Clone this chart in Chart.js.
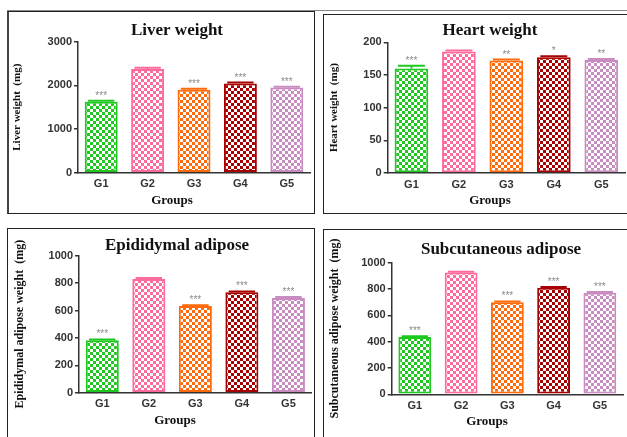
<!DOCTYPE html>
<html>
<head>
<meta charset="utf-8">
<script src="https://cdn.jsdelivr.net/npm/chart.js@4.4.1/dist/chart.umd.min.js"></script>
<style>
  html, body { margin: 0; padding: 0; background: #fff; width: 627px; height: 437px; overflow: hidden; }
  body { position: relative; }
  .frame { position: absolute; box-sizing: border-box; border: 1px solid #222; }
  canvas { position: absolute; }
</style>
</head>
<body>
<div style="position:absolute;left:7px;top:10px;width:620px;border-top:1px solid #888"></div>
<div class="frame" style="left:7px;top:11px;width:308px;height:203px;border-left:2px solid #444"></div>
<div class="frame" style="left:323px;top:14px;width:320px;height:200px"></div>
<div class="frame" style="left:7px;top:228px;width:308px;height:230px"></div>
<div class="frame" style="left:323px;top:229px;width:320px;height:230px"></div>

<canvas id="liver-chart" width="304" height="199" style="left:9px;top:13px"></canvas>
<canvas id="heart-chart" width="303" height="197" style="left:324px;top:15px"></canvas>
<canvas id="epi-chart"   width="304" height="208" style="left:9px;top:229px"></canvas>
<canvas id="sub-chart"   width="303" height="207" style="left:324px;top:230px"></canvas>

<script>
/* ── Data ── */
const GROUPS = ['G1', 'G2', 'G3', 'G4', 'G5'];

const LIVER       = [1625, 2375, 1900, 2040, 1950];
const LIVER_SEM   = [25, 30, 25, 25, 20];
const LIVER_SIG   = ['***', '', '***', '***', '***'];
const LIVER_TICKS = [0, 1000, 2000, 3000];

const HEART       = [160, 186, 172, 177, 173];
const HEART_SEM   = [4, 1.5, 1.5, 1.5, 1.5];
const HEART_SIG   = ['***', '', '**', '*', '**'];
const HEART_TICKS = [0, 50, 100, 150, 200];

const EPI         = [383, 830, 633, 733, 692];
const EPI_SEM     = [6, 8, 6, 6, 6];
const EPI_SIG     = ['***', '', '***', '***', '***'];
const EPI_TICKS   = [0, 200, 400, 600, 800, 1000];

const SUB         = [435, 925, 700, 810, 772];
const SUB_SEM     = [6, 6, 6, 6, 6];
const SUB_SIG     = ['***', '', '***', '***', '***'];
const SUB_TICKS   = [0, 200, 400, 600, 800, 1000];

/* ── Constants ── */
const COLORS = ['#1ec81e', '#fd6b9c', '#ff6a0a', '#a80000', '#c98cc0'];
const SERIF  = "'Liberation Serif', 'Times New Roman', serif";
const SANS   = "'Liberation Sans', Arial, sans-serif";
const AXIS   = '#333';

/* ── Checkerboard fill ── */
function checker(color) {
  const c = document.createElement('canvas');
  c.width = 6; c.height = 6;
  const g = c.getContext('2d');
  g.fillStyle = '#fff';
  g.fillRect(0, 0, 6, 6);
  g.fillStyle = color;
  g.fillRect(0, 0, 3, 3);
  g.fillRect(3, 3, 3, 3);
  return g.createPattern(c, 'repeat');
}

/* ── One panel ── */
function drawPanel(id, values, sem, sig, ticks, p) {
  const canvas = document.getElementById(id);
  if (!canvas) return;

  const extras = {
    id: 'extras',
    afterDatasetsDraw(chart) {
      const ctx = chart.ctx;
      const y   = chart.scales.y;
      chart.getDatasetMeta(0).data.forEach((bar, i) => {
        const yTop = y.getPixelForValue(values[i] + sem[i]);
        const yVal = y.getPixelForValue(values[i]);
        const half = bar.width * 0.4;
        ctx.save();
        ctx.strokeStyle = COLORS[i];
        ctx.lineWidth = 2;
        ctx.beginPath();
        ctx.moveTo(bar.x, yVal);
        ctx.lineTo(bar.x, yTop);
        ctx.moveTo(bar.x - half, yTop);
        ctx.lineTo(bar.x + half, yTop);
        ctx.stroke();
        if (sig[i]) {
          ctx.fillStyle = '#8a8a8a';
          ctx.font = '10px ' + SANS;
          ctx.textAlign = 'center';
          ctx.textBaseline = 'alphabetic';
          ctx.fillText(sig[i], bar.x, yTop - 2);
        }
        ctx.restore();
      });
    },
    afterDraw(chart) {
      const ctx = chart.ctx;
      ctx.save();
      ctx.fillStyle = '#111';
      ctx.textAlign = 'center';
      ctx.textBaseline = 'middle';
      ctx.font = 'bold 17px ' + SERIF;
      ctx.fillText(p.title, p.titleX, p.titleY);
      ctx.font = 'bold 13px ' + SERIF;
      ctx.fillText('Groups', p.xTitleX, p.xTitleY);
      ctx.restore();
    },
  };

  new Chart(canvas, {
    type: 'bar',
    data: {
      labels: GROUPS,
      datasets: [{
        data:               values,
        backgroundColor:    COLORS.map(checker),
        borderColor:        COLORS,
        borderWidth:        2,
        borderSkipped:      false,
        barPercentage:      0.71,
        categoryPercentage: 1,
      }],
    },
    options: {
      responsive:       false,
      animation:        false,
      devicePixelRatio: 1,
      layout: { padding: { top: p.top, right: p.right, left: 0, bottom: 0 } },
      plugins: {
        legend:  { display: false },
        tooltip: { enabled: false },
      },
      scales: {
        x: {
          grid:   { display: true, drawOnChartArea: false, drawTicks: false },
          border: { color: AXIS, width: 1.5 },
          ticks:  { color: AXIS, padding: 5, font: { family: SANS, size: 11, weight: 'bold' } },
          afterFit: s => { s.height = p.xHeight; },
        },
        y: {
          min: 0,
          max: ticks[ticks.length - 1],
          afterBuildTicks: s => { s.ticks = ticks.map(v => ({ value: v })); },
          grid:   { drawOnChartArea: false, drawTicks: true, tickLength: 4, color: AXIS, lineWidth: 1.5 },
          border: { color: AXIS, width: 1.5 },
          ticks:  {
            color: AXIS,
            padding: 2,
            font: { family: SANS, size: 11, weight: 'bold' },
            callback: v => String(v),
          },
          title: {
            display: true,
            text:    p.yTitle,
            color:   '#111',
            font:    { family: SERIF, size: p.yTitleSize, weight: 'bold' },
            padding: { top: p.yTitlePad, bottom: 0 },
          },
          afterFit: s => { s.width = p.yWidth; },
        },
      },
    },
    plugins: [extras],
  });
}

/* ── Draw everything ── */
drawPanel('liver-chart', LIVER, LIVER_SEM, LIVER_SIG, LIVER_TICKS, {
  title: 'Liver weight', titleX: 168, titleY: 18, xTitleX: 163, xTitleY: 188,
  yTitle: 'Liver weight  (mg)', yTitleSize: 11, yTitlePad: 1.5,
  top: 28.7, right: 3, yWidth: 69, xHeight: 39.3,
});
drawPanel('heart-chart', HEART, HEART_SEM, HEART_SIG, HEART_TICKS, {
  title: 'Heart weight', titleX: 166, titleY: 16, xTitleX: 166, xTitleY: 186,
  yTitle: 'Heart weight  (mg)', yTitleSize: 11, yTitlePad: 3.4,
  top: 27.3, right: 2, yWidth: 63.7, xHeight: 39,
});
drawPanel('epi-chart', EPI, EPI_SEM, EPI_SIG, EPI_TICKS, {
  title: 'Epididymal adipose', titleX: 168, titleY: 16.7, xTitleX: 166, xTitleY: 192,
  yTitle: 'Epididymal adipose weight  (mg)', yTitleSize: 12, yTitlePad: 3.8,
  top: 26.7, right: 1.3, yWidth: 70, xHeight: 44.3,
});
drawPanel('sub-chart', SUB, SUB_SEM, SUB_SIG, SUB_TICKS, {
  title: 'Subcutaneous adipose', titleX: 177, titleY: 20, xTitleX: 163, xTitleY: 191.7,
  yTitle: 'Subcutaneous adipose weight  (mg)', yTitleSize: 12, yTitlePad: 3.8,
  top: 32.7, right: 4, yWidth: 67.7, xHeight: 42.7,
});
</script>
</body>
</html>
